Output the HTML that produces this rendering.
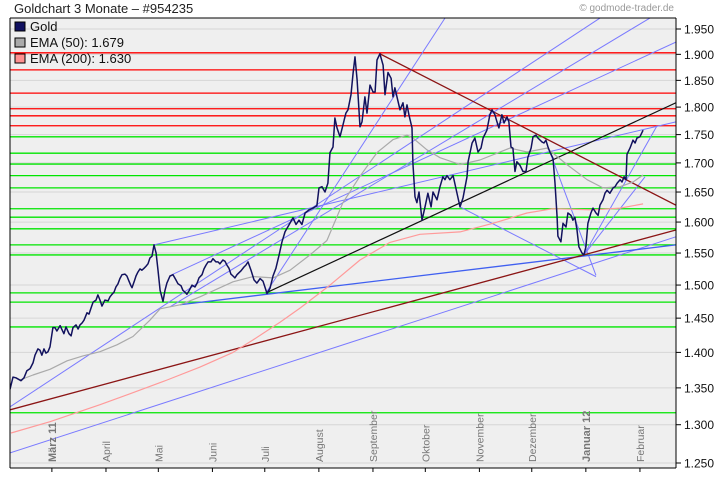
<!DOCTYPE html>
<html><head><meta charset="utf-8"><style>
body{margin:0;background:#fff;width:720px;height:481px;overflow:hidden;font-family:"Liberation Sans",sans-serif}
svg{display:block}
</style></head><body>
<svg id="chart" width="720" height="481" xmlns="http://www.w3.org/2000/svg" font-family="Liberation Sans, sans-serif">
<text x="14" y="13" font-size="13" fill="#222">Goldchart 3 Monate – #954235</text>
<text x="674" y="11" font-size="10" fill="#999" text-anchor="end">© godmode-trader.de</text>
<defs><clipPath id="pc"><rect x="10" y="18" width="666" height="450"/></clipPath></defs>
<rect x="10" y="18" width="666" height="450" fill="#efefef"/>
<g id="grid"></g><g id="levels" clip-path="url(#pc)"></g><g id="trends" clip-path="url(#pc)"></g><g id="series" clip-path="url(#pc)"></g>
<g id="axes"></g>
<g>
<rect x="15" y="22" width="10" height="9" fill="#101060" stroke="#000" stroke-width="1"/>
<text x="30" y="31" font-size="13" fill="#111">Gold</text>
<rect x="15" y="38" width="10" height="9" fill="#aaa" stroke="#000" stroke-width="1"/>
<text x="30" y="47" font-size="13" fill="#111">EMA (50): 1.679</text>
<rect x="15" y="54" width="10" height="9" fill="#ff9090" stroke="#000" stroke-width="1"/>
<text x="30" y="63" font-size="13" fill="#111">EMA (200): 1.630</text>
</g>
</svg>
<script>
const monthTicks=[24,55,85,116,146,177,208,238,269,299,330,361];
const monthLabels=["März 11","April","Mai","Juni","Juli","August","September","Oktober","November","Dezember","Januar 12","Februar"];
const yTicks=[1.25,1.30,1.35,1.40,1.45,1.50,1.55,1.60,1.65,1.70,1.75,1.80,1.85,1.90,1.95];
const goldDays=[0,1.7,3.4,6.3,8,9.7,11.5,13.2,14.3,16,17.2,18.3,19.5,20.6,21.8,22.9,24.6,25.8,26.9,28.7,29.8,30.9,32.1,33.8,35,36.1,37.8,39,40.1,41.3,42.4,44.1,45.3,46.4,47.6,49.3,50.4,51.6,52.7,54.4,56.2,57.3,58.5,59.6,60.7,61.9,63,64.2,65.9,67,68.2,69.3,69.9,71.1,72.2,73.3,74.5,75.6,76.8,77.9,79.1,80.2,81.4,82.5,83.7,84.8,86,87.7,88.8,89.9,91.7,93.4,95.1,96.3,98,99.1,100.3,101.4,102.6,104.3,106,107.2,108.3,110,111.2,112.3,113.5,115.2,116.3,118,119.2,120.3,122,123.2,124.3,125.5,126.6,127.8,128.9,130.1,131.2,132.4,134.1,135.2,136.4,138.1,139.8,141.5,143.3,145,146.1,147.3,149,150.7,152.4,154.2,155.9,157.6,160.4,162.2,163.9,165.6,167.3,169.1,171.4,173.6,175.9,177.1,178.8,180.5,182.2,183.4,185.1,186.2,187.4,189.1,190.8,192.5,193.7,195.4,196.6,197.7,198.9,200.6,201.7,203.4,204.6,206.3,208,209.2,210.3,212,213.8,214.9,216.6,218.4,219.5,220.6,221.8,223.5,225.2,226.3,227.5,228.6,230.4,230.9,232.1,233.2,234.4,236.1,237.8,239.5,241.3,242.4,244.7,246.4,248.1,249.3,250.4,252.1,253.9,257.9,259.6,261.9,262.5,264.8,266.4,268.2,269.9,271.1,273.3,275,276.2,277.9,279.1,280.2,281.9,283.1,284.8,285.9,287.1,288.2,289.4,290.5,292.2,294,295.7,296.8,298.6,299.7,301.4,302.5,304.8,306,307.1,308.3,309.4,311.2,312.3,313.5,314,315.7,316.9,318.6,319.7,321.5,322.6,323.7,324.9,326,327.8,328.9,330,331.2,332.9,334.1,335.8,337,338.1,339.8,341,342.1,343.8,345.6,346.7,347.9,349.6,350.7,351.9,353,353.6,355.3,357,358.2,359.3,361,362.8];
const goldValues=[1.348,1.365,1.364,1.360,1.364,1.374,1.377,1.385,1.396,1.405,1.403,1.396,1.405,1.399,1.401,1.408,1.436,1.436,1.431,1.439,1.433,1.427,1.437,1.427,1.424,1.436,1.440,1.434,1.440,1.443,1.447,1.458,1.456,1.465,1.474,1.477,1.485,1.477,1.468,1.477,1.476,1.482,1.486,1.489,1.497,1.502,1.510,1.516,1.517,1.514,1.506,1.499,1.496,1.505,1.514,1.520,1.525,1.523,1.526,1.529,1.533,1.542,1.545,1.563,1.550,1.523,1.492,1.475,1.492,1.503,1.514,1.516,1.508,1.502,1.499,1.492,1.489,1.486,1.491,1.500,1.497,1.503,1.511,1.516,1.525,1.531,1.536,1.536,1.541,1.536,1.536,1.533,1.539,1.537,1.531,1.526,1.517,1.514,1.511,1.516,1.519,1.522,1.528,1.531,1.536,1.523,1.508,1.503,1.510,1.506,1.497,1.487,1.495,1.514,1.526,1.547,1.568,1.584,1.598,1.607,1.596,1.603,1.596,1.615,1.620,1.623,1.627,1.657,1.659,1.650,1.665,1.718,1.728,1.780,1.762,1.746,1.767,1.789,1.795,1.823,1.864,1.895,1.851,1.764,1.773,1.819,1.789,1.841,1.828,1.828,1.889,1.901,1.879,1.823,1.865,1.854,1.819,1.836,1.819,1.795,1.808,1.782,1.804,1.786,1.762,1.700,1.642,1.632,1.650,1.603,1.625,1.648,1.625,1.650,1.637,1.659,1.676,1.671,1.678,1.671,1.678,1.625,1.640,1.676,1.702,1.735,1.744,1.719,1.726,1.744,1.758,1.786,1.795,1.786,1.773,1.762,1.786,1.771,1.782,1.773,1.728,1.726,1.685,1.702,1.696,1.685,1.685,1.710,1.726,1.746,1.749,1.744,1.737,1.735,1.740,1.728,1.719,1.708,1.665,1.608,1.577,1.568,1.598,1.592,1.615,1.611,1.603,1.608,1.587,1.560,1.550,1.547,1.560,1.598,1.615,1.623,1.615,1.611,1.628,1.637,1.648,1.653,1.648,1.657,1.659,1.665,1.671,1.667,1.676,1.671,1.715,1.726,1.740,1.735,1.744,1.746,1.758];
const ema50Days=[5.7,13.2,22.9,32.7,41.8,51.6,61.3,70.5,80.2,86,97.4,108.9,127.8,139.3,150.7,160.5,171.9,181.6,190.8,200.6,210.3,219.5,227.5,230.9,238.9,246.4,257.9,269.3,286.5,296.3,307.7,319.2,330.7,339.8,349.6,357,362.8];
const ema50Values=[1.361,1.368,1.376,1.388,1.395,1.401,1.411,1.423,1.447,1.464,1.470,1.482,1.505,1.513,1.511,1.523,1.547,1.570,1.632,1.677,1.718,1.741,1.749,1.744,1.723,1.709,1.697,1.705,1.726,1.719,1.726,1.697,1.671,1.657,1.659,1.667,1.679];
const ema200Days=[0.6,22.9,51.6,74.5,90,108.9,127.8,139.3,154.7,166.2,183.4,200.6,217.7,234.9,257.9,276.8,296.3,311.2,334.1,349.6,362.8];
const ema200Values=[1.289,1.304,1.327,1.347,1.361,1.379,1.400,1.418,1.444,1.465,1.500,1.539,1.567,1.580,1.584,1.598,1.615,1.622,1.620,1.623,1.630];
const redLevels=[1.903,1.870,1.826,1.797,1.784,1.766];
const greenLevels=[1.746,1.717,1.698,1.678,1.657,1.622,1.608,1.589,1.563,1.547,1.488,1.474,1.437,1.316];
const blueTrends=[[0,1.324,338.1,1.972],[146.7,1.488,249.3,1.972],[91.7,1.467,366.7,1.972],[92.8,1.516,381.6,1.924],[82.5,1.563,381.6,1.773],[0,1.263,381.6,1.576],[257.9,1.625,335.8,1.513],[308.3,1.728,335.8,1.515],[328.9,1.547,370.8,1.766],[328.9,1.547,363.9,1.676]];
const darkBlueTrends=[[97.4,1.470,381.6,1.563]];
const blackTrends=[[146.7,1.488,381.6,1.808]];
const darkRedTrends=[[212,1.901,381.6,1.628],[0,1.320,381.6,1.587]];

const X0=10,PXD=1.745,YB=463,K=976;
function xs(d){return X0+d*PXD;}
function ys(v){return YB-(Math.log(v)-Math.log(1.25))*K;}
const NS="http://www.w3.org/2000/svg";
function mk(tag,attrs,parent){const e=document.createElementNS(NS,tag);for(const k in attrs)e.setAttribute(k,attrs[k]);parent.appendChild(e);return e;}
const grid=document.getElementById('grid'),lev=document.getElementById('levels'),tr=document.getElementById('trends'),ser=document.getElementById('series'),ax=document.getElementById('axes');
yTicks.forEach(v=>{
  const y=ys(v);
  const g=mk('line',{x1:10,x2:676,y1:y,y2:y,stroke:'#d6d6d6','stroke-width':1},grid);
  
  
  const t=mk('line',{x1:676,x2:681,y1:y,y2:y,stroke:'#000'},ax);
  
  
  const l=mk('text',{x:684,y:y+4.5,'font-size':12,fill:'#111'},ax);
  l.textContent=v.toFixed(3);
  
  
});
function hline(v,color,name){const y=ys(v);const e=mk('line',{x1:10,x2:676,y1:y,y2:y,stroke:color,'stroke-width':1.3},lev);
  
  }
redLevels.forEach(v=>hline(v,'#ff0000','resistance-level'));
greenLevels.forEach(v=>hline(v,'#00e600','support-level'));
function tline(a,color,name,w){const e=mk('line',{x1:xs(a[0]),y1:ys(a[1]),x2:xs(a[2]),y2:ys(a[3]),stroke:color,'stroke-width':w},tr);
  
  }
blueTrends.forEach(a=>tline(a,'#7a7aff','blue-trendline',1));
darkBlueTrends.forEach(a=>tline(a,'#4060f0','blue-trendline-dark',1.3));
blackTrends.forEach(a=>tline(a,'#111','black-trendline',1.2));
darkRedTrends.forEach(a=>tline(a,'#8b1515','darkred-trendline',1.3));
function poly(ds,vs,color,w,name){const p=ds.map((d,i)=>xs(d).toFixed(1)+','+ys(vs[i]).toFixed(1)).join(' ');
  const e=mk('polyline',{points:p,fill:'none',stroke:color,'stroke-width':w,'stroke-linejoin':'round'},ser);
  
  }
poly(ema200Days,ema200Values,'#ff9a9a',1.2,'ema200-line');
poly(ema50Days,ema50Values,'#aaaaaa',1.2,'ema50-line');
poly(goldDays,goldValues,'#12125e',1.5,'gold-price-line');
mk('line',{x1:10,x2:10,y1:18,y2:468,stroke:'#000'},ax);
mk('line',{x1:10,x2:676,y1:18,y2:18,stroke:'#000'},ax);
mk('line',{x1:676,x2:676,y1:18,y2:468,stroke:'#000'},ax);
mk('line',{x1:10,x2:676,y1:468,y2:468,stroke:'#000'},ax);
monthTicks.forEach((d,i)=>{
  const x=xs(d);
  const t=mk('line',{x1:x,x2:x,y1:468,y2:472,stroke:'#000'},ax);
  
  
  const bold=(i===0||i===10);
  const l=mk('text',{x:0,y:0,'font-size':bold?11:10.5,'font-weight':bold?'bold':'normal',fill:'#777',transform:'translate('+(x+4)+',462) rotate(-90)'},ax);
  l.textContent=monthLabels[i];
  
  
});
</script>
</body></html>
